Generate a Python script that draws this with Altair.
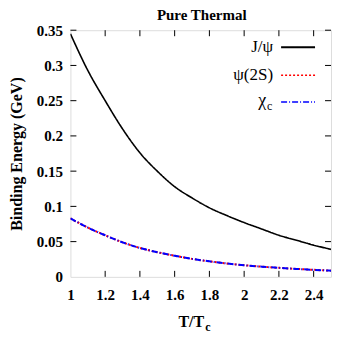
import altair as alt
import pandas as pd

# ---- data ----
T = [1.0, 1.1, 1.2, 1.3, 1.4, 1.5, 1.6, 1.7, 1.8, 1.9, 2.0, 2.1, 2.2, 2.3, 2.4, 2.5]
jpsi = [0.345, 0.293, 0.250, 0.210, 0.176, 0.150, 0.128, 0.112, 0.098, 0.087, 0.077, 0.068, 0.059, 0.052, 0.045, 0.039]
psi2s = [0.083, 0.070, 0.059, 0.049, 0.041, 0.035, 0.030, 0.0255, 0.022, 0.019, 0.0165, 0.0145, 0.0128, 0.0113, 0.0100, 0.0088]
chic = [0.083, 0.070, 0.059, 0.049, 0.041, 0.035, 0.030, 0.0255, 0.022, 0.019, 0.0165, 0.0145, 0.0128, 0.0113, 0.0100, 0.0088]
series = ["J/ψ", "ψ(2S)", "χc"]
x_ticks = [1.0, 1.2, 1.4, 1.6, 1.8, 2.0, 2.2, 2.4]
y_ticks = [0, 0.05, 0.1, 0.15, 0.2, 0.25, 0.3, 0.35]
title_text = "Pure Thermal"

W, H = 261, 247
FONT = "Liberation Serif"

rows = []
for name, vals in zip(series, [jpsi, psi2s, chic]):
    for t, v in zip(T, vals):
        rows.append({"T": t, "E": v, "series": name})
df = pd.DataFrame(rows)

xs = alt.Scale(domain=[1, 2.5], nice=False, zero=False)
ys = alt.Scale(domain=[0, 0.35], nice=False)

x_axis = alt.Axis(values=x_ticks, format="~g", ticks=False, domain=False, grid=False,
                  labelFont=FONT, labelFontSize=15, labelFontWeight="bold", labelColor="black",
                  labelPadding=11, labelOverlap=False, labelFlush=False, title=None)
y_axis = alt.Axis(values=y_ticks, format="~g", ticks=False, domain=False, grid=False,
                  labelFont=FONT, labelFontSize=15, labelFontWeight="bold", labelColor="black",
                  labelPadding=8, labelOverlap=False, labelFlush=False,
                  title="Binding Energy (GeV)", titleFont=FONT, titleFontSize=16,
                  titleFontWeight="bold", titleColor="black", titlePadding=12)

base = alt.Chart(df)

def line(name, color, dash, width):
    return base.transform_filter(alt.datum.series == name).mark_line(
        interpolate="monotone", color=color, strokeDash=dash, strokeWidth=width, clip=True
    ).encode(x=alt.X("T:Q", scale=xs, axis=x_axis), y=alt.Y("E:Q", scale=ys, axis=y_axis))

l1 = line(series[0], "black", [1, 0], 1.6)
l2 = line(series[1], "red", [2, 2], 2)
l3 = line(series[2], "blue", [6, 2, 1, 2], 2)

xt = pd.DataFrame({"v": x_ticks[1:]})
yt = pd.DataFrame({"v": y_ticks[1:]})
tk = alt.Chart(xt).mark_rule(color="black", strokeWidth=1)
xb = tk.encode(x=alt.X("v:Q", scale=xs, axis=x_axis), y=alt.value(H), y2=alt.value(H - 6))
xtop = tk.encode(x=alt.X("v:Q", scale=xs, axis=x_axis), y=alt.value(0), y2=alt.value(6))
tky = alt.Chart(yt).mark_rule(color="black", strokeWidth=1)
yl = tky.encode(y=alt.Y("v:Q", scale=ys, axis=y_axis), x=alt.value(0), x2=alt.value(6))
yr = tky.encode(y=alt.Y("v:Q", scale=ys, axis=y_axis), x=alt.value(W), x2=alt.value(W - 6))

one = pd.DataFrame({"a": [0]})
LX1, LX2, TXR = 211, 245, 203
leg_y = [17, 45, 72]

def leg_line(y, color, dash, width):
    return alt.Chart(one).mark_rule(color=color, strokeDash=dash, strokeWidth=width).encode(
        x=alt.value(LX1), x2=alt.value(LX2), y=alt.value(y))

def txt(text, x, y, size, align="right", weight="normal", baseline="middle"):
    return alt.Chart(one).mark_text(text=text, font=FONT, fontSize=size, fontWeight=weight,
                                    align=align, baseline=baseline, color="black").encode(
        x=alt.value(x), y=alt.value(y))

legend = [
    txt("J/ψ", TXR, leg_y[0], 17), leg_line(leg_y[0], "black", [1, 0], 2),
    txt("ψ(2S)", TXR, leg_y[1], 17), leg_line(leg_y[1], "red", [2, 2], 1.5),
    txt("χ", TXR - 7, leg_y[2] - 1, 18), txt("c", TXR - 6, leg_y[2] + 4, 12, align="left"),
    leg_line(leg_y[2], "blue", [6, 2, 1, 2], 1.5),
]

xtitle = [txt("T/T", 134, 292, 16, weight="bold"), txt("c", 135, 297, 12, align="left", weight="bold")]
top_title = txt(title_text, W / 2 + 1, -15, 15, align="center", weight="bold")

chart = alt.layer(l1, l2, l3, xb, xtop, yl, yr, *legend, *xtitle, top_title).properties(
    width=W, height=H,
    autosize=alt.AutoSizeParams(type="none"),
    padding={"left": 62.5, "top": 22, "right": 15, "bottom": 70},
).configure_view(stroke="black", strokeWidth=1.2).configure(background="white")

chart.save("out.html", embed_options={"renderer": "svg", "actions": False})
